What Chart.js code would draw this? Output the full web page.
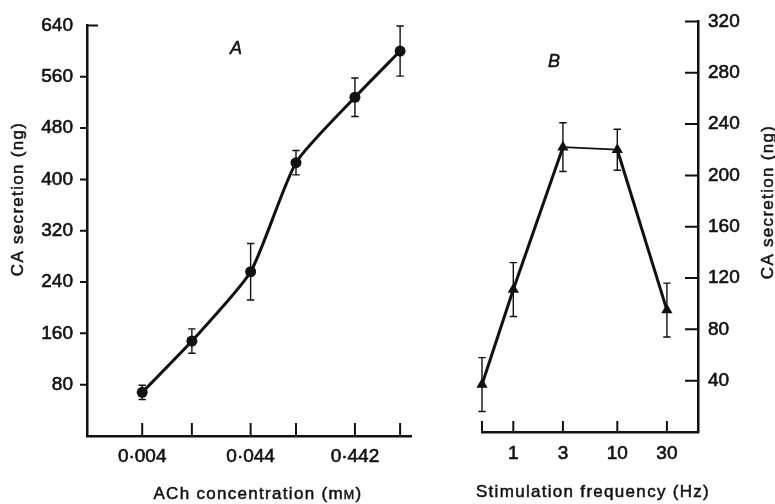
<!DOCTYPE html>
<html><head><meta charset="utf-8">
<script src="https://cdn.jsdelivr.net/npm/chart.js@4/dist/chart.umd.min.js"></script>
<style>
html,body{margin:0;padding:0;background:#fff;}
body{width:775px;height:504px;position:relative;overflow:hidden;}
#ca{position:absolute;left:0;top:0;}
#cb{position:absolute;left:440px;top:0;}
</style>
</head><body>
<canvas id="ca" width="440" height="504"></canvas>
<canvas id="cb" width="335" height="504"></canvas>
<script>
// ---- Panel A: ACh concentration (log axis) ----
const achConc       = [0.004, 0.012, 0.044, 0.12, 0.442, 1.2];
const achSecretion  = [68, 148, 256, 426, 528, 600];
const achSem        = [11, 19, 44, 19, 30, 39];
const achTickLabels = ['0·004', '', '0·044', '', '0·442', ''];
const achYTicks     = [80, 160, 240, 320, 400, 480, 560, 640];

// ---- Panel B: stimulation frequency (log axis) ----
const stimFreq       = [0.5, 1, 3, 10, 30];
const stimSecretion  = [37, 111, 222, 220, 95];
const stimSem        = [21, 21, 19, 16, 21];
const stimTickLabels = ['', '1', '3', '10', '30'];
const stimYTicks     = [40, 80, 120, 160, 200, 240, 280, 320];

const yTitle = 'CA secretion (ng)';
const INK = '#111';
const FAM = "'Liberation Sans', Arial, Helvetica, sans-serif";
Chart.defaults.font.family = FAM;
Chart.defaults.color = INK;

function drawRun(ctx, parts, cx, baseY) {
  let total = 0;
  parts.forEach(p => { ctx.font = p.font; p.w = ctx.measureText(p.t).width; total += p.w; });
  let xx = cx - total / 2;
  ctx.textAlign = 'left'; ctx.textBaseline = 'alphabetic';
  parts.forEach(p => { ctx.font = p.font; ctx.strokeText(p.t, xx, baseY); ctx.fillText(p.t, xx, baseY); xx += p.w; });
}
function drawVertical(ctx, text, bx, cy) {
  ctx.save();
  ctx.translate(bx, cy); ctx.rotate(-Math.PI / 2);
  ctx.textAlign = 'center'; ctx.textBaseline = 'alphabetic';
  ctx.strokeText(text, 0, 0);
  ctx.fillText(text, 0, 0);
  ctx.restore();
}
function errorBars(xs, ys, es) {
  return {
    id: 'errorBars',
    beforeDatasetsDraw(chart) {
      const {ctx, scales: {x, y}} = chart;
      ctx.save(); ctx.strokeStyle = INK; ctx.lineWidth = 1.4;
      ctx.beginPath();
      xs.forEach((xv, i) => {
        const px = x.getPixelForValue(xv);
        const t = y.getPixelForValue(ys[i] + es[i]);
        const b = y.getPixelForValue(ys[i] - es[i]);
        ctx.moveTo(px, t); ctx.lineTo(px, b);
        ctx.moveTo(px - 3.7, t); ctx.lineTo(px + 3.7, t);
        ctx.moveTo(px - 3.7, b); ctx.lineTo(px + 3.7, b);
      });
      ctx.stroke(); ctx.restore();
    }
  };
}
const tickFont = {size: 19};
const tickStroke = {textStrokeColor: INK, textStrokeWidth: 0.6};

// ---------- Chart A ----------
const marksA = {
  id: 'marksA',
  afterDraw(chart) {
    const {ctx, chartArea: a, scales: {x, y}} = chart;
    ctx.save(); ctx.strokeStyle = INK; ctx.lineWidth = 2;
    ctx.beginPath();
    achConc.forEach(v => { const px = x.getPixelForValue(v); ctx.moveTo(px, a.bottom); ctx.lineTo(px, a.bottom - 13); });
    achYTicks.forEach(v => {
      const py = y.getPixelForValue(v);
      if (v === achYTicks[achYTicks.length - 1]) { ctx.moveTo(a.left, py); ctx.lineTo(a.left + 11, py); }
      else { ctx.moveTo(a.left - 7, py); ctx.lineTo(a.left, py); }
    });
    ctx.stroke();
    ctx.fillStyle = INK; ctx.lineWidth = 0.5;
    ctx.letterSpacing = '1.3px';
    ctx.font = '17px ' + FAM;
    drawVertical(ctx, yTitle, 23, 199);
    drawRun(ctx, [
      {t: 'ACh concentration (m', font: '17px ' + FAM},
      {t: 'M', font: '12.5px ' + FAM},
      {t: ')', font: '17px ' + FAM}
    ], 258, 499);
    ctx.letterSpacing = '0px';
    ctx.font = 'italic 18px ' + FAM;
    ctx.textAlign = 'center'; ctx.textBaseline = 'alphabetic';
    ctx.strokeText('A', 236, 54);
    ctx.fillText('A', 236, 54);
    ctx.restore();
  }
};

new Chart(document.getElementById('ca'), {
  type: 'line',
  data: {
    datasets: [{
      data: achConc.map((v, i) => ({x: v, y: achSecretion[i]})),
      borderColor: INK, borderWidth: 3,
      pointRadius: 5.5, pointBackgroundColor: INK, pointBorderWidth: 0, pointStyle: 'circle',
      tension: 0.2, clip: false
    }]
  },
  options: {
    responsive: false, animation: false, devicePixelRatio: 1,
    layout: {padding: {left: 0, top: 19, right: 29, bottom: 0}},
    plugins: {legend: {display: false}, tooltip: {enabled: false}},
    scales: {
      x: {
        type: 'logarithmic', position: 'bottom', min: 0.00118, max: 1.527,
        afterBuildTicks: s => { s.ticks = achConc.map(v => ({value: v})); },
        afterFit: s => { s.height = 68; },
        ticks: Object.assign({callback: (v, i) => achTickLabels[i], autoSkip: false, maxRotation: 0, minRotation: 0,
                padding: 9, color: INK, font: tickFont}, tickStroke),
        grid: {display: false, drawTicks: false},
        border: {display: true, color: INK, width: 2.5}
      },
      y: {
        type: 'linear', position: 'left', min: 0, max: 640,
        afterBuildTicks: s => { s.ticks = achYTicks.map(v => ({value: v})); },
        afterFit: s => { s.width = 87; },
        ticks: Object.assign({callback: v => String(v), padding: 14, color: INK, font: tickFont}, tickStroke),
        grid: {display: false, drawTicks: false},
        border: {display: true, color: INK, width: 2.5}
      }
    }
  },
  plugins: [errorBars(achConc, achSecretion, achSem), marksA]
});

// ---------- Chart B ----------
const marksB = {
  id: 'marksB',
  afterDraw(chart) {
    const {ctx, chartArea: a, scales: {x, y}} = chart;
    ctx.save(); ctx.strokeStyle = INK; ctx.lineWidth = 2;
    ctx.beginPath();
    stimFreq.forEach(v => { const px = x.getPixelForValue(v); ctx.moveTo(px, a.bottom); ctx.lineTo(px, a.bottom - 11); });
    stimYTicks.forEach(v => { const py = y.getPixelForValue(v); ctx.moveTo(a.right - 13, py); ctx.lineTo(a.right, py); });
    ctx.stroke();
    ctx.fillStyle = INK; ctx.lineWidth = 0.5;
    ctx.letterSpacing = '1.3px';
    ctx.font = '17px ' + FAM;
    drawVertical(ctx, yTitle, 773 - 440, 202);
    drawRun(ctx, [{t: 'Stimulation frequency (Hz)', font: '17px ' + FAM}], 593 - 440, 497);
    ctx.letterSpacing = '0px';
    ctx.font = 'italic 18px ' + FAM;
    ctx.textAlign = 'center'; ctx.textBaseline = 'alphabetic';
    ctx.strokeText('B', 554 - 440, 67);
    ctx.fillText('B', 554 - 440, 67);
    ctx.restore();
  }
};

new Chart(document.getElementById('cb'), {
  type: 'line',
  data: {
    datasets: [{
      data: stimFreq.map((v, i) => ({x: v, y: stimSecretion[i]})),
      borderColor: INK, borderWidth: 3,
      segment: {borderWidth: c => (c.p0DataIndex === 2 ? 1.8 : 3)},
      pointRadius: 6.5, pointBackgroundColor: INK, pointBorderWidth: 0, pointStyle: 'triangle',
      tension: 0, clip: false
    }]
  },
  options: {
    responsive: false, animation: false, devicePixelRatio: 1,
    layout: {padding: {left: 42, top: 12, right: 0, bottom: 0}},
    plugins: {legend: {display: false}, tooltip: {enabled: false}},
    scales: {
      x: {
        type: 'logarithmic', position: 'bottom', min: 0.5, max: 59.7,
        afterBuildTicks: s => { s.ticks = stimFreq.map(v => ({value: v})); },
        afterFit: s => { s.height = 72; },
        ticks: Object.assign({callback: (v, i) => stimTickLabels[i], autoSkip: false, maxRotation: 0, minRotation: 0,
                padding: 10.5, color: INK, font: tickFont}, tickStroke),
        grid: {display: false, drawTicks: false},
        border: {display: true, color: INK, width: 2.5}
      },
      y: {
        type: 'linear', position: 'right', min: 0, max: 320,
        afterBuildTicks: s => { s.ticks = stimYTicks.map(v => ({value: v})); },
        afterFit: s => { s.width = 77; },
        ticks: Object.assign({callback: v => String(v), padding: 10, color: INK, font: tickFont}, tickStroke),
        grid: {display: false, drawTicks: false},
        border: {display: true, color: INK, width: 2.5}
      }
    }
  },
  plugins: [errorBars(stimFreq, stimSecretion, stimSem), marksB]
});
</script>
</body></html>
